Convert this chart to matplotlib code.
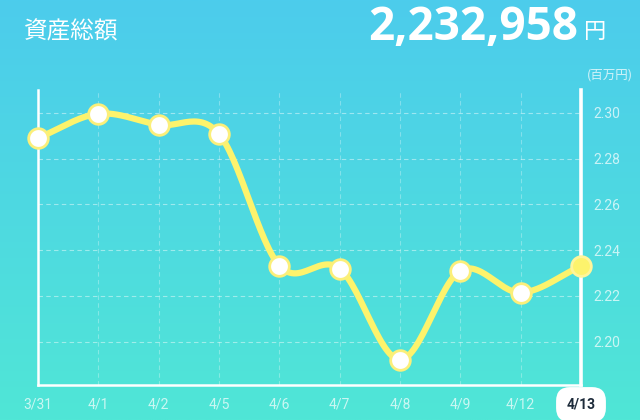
import numpy as np
import matplotlib
matplotlib.use('Agg')
import matplotlib.pyplot as plt

plt.rcParams['font.family'] = ['Roboto', 'Noto Sans CJK JP', 'DejaVu Sans']

dates = ['3/31', '4/1', '4/2', '4/5', '4/6', '4/7', '4/8', '4/9', '4/12', '4/13']
values = [2.289, 2.2996, 2.2948, 2.2908, 2.2332, 2.2319, 2.1921, 2.2310, 2.2214, 2.2330]
yticks = [2.20, 2.22, 2.24, 2.26, 2.28, 2.30]
total = '2,232,958'


def catmull_rom(x, y, n=30):
    # smooth curve through the points
    x = np.asarray(x, float)
    y = np.asarray(y, float)
    px = np.concatenate([[2 * x[0] - x[1]], x, [2 * x[-1] - x[-2]]])
    py = np.concatenate([[2 * y[0] - y[1]], y, [2 * y[-1] - y[-2]]])
    xs, ys = [], []
    t = np.linspace(0, 1, n)
    for i in range(1, len(px) - 2):
        for p, out in ((px, xs), (py, ys)):
            p0, p1, p2, p3 = p[i - 1], p[i], p[i + 1], p[i + 2]
            out.append(0.5 * ((2 * p1) + (-p0 + p2) * t + (2 * p0 - 5 * p1 + 4 * p2 - p3) * t ** 2
                              + (-p0 + 3 * p1 - 3 * p2 + p3) * t ** 3))
    return np.concatenate(xs), np.concatenate(ys)


fig = plt.figure(figsize=(6.4, 4.2), dpi=100)

# gradient background
bg = fig.add_axes([0, 0, 1, 1])
top = np.array([76, 204, 236]) / 255
bottom = np.array([80, 230, 214]) / 255
grad = np.linspace(0, 1, 256)[:, None, None]
img = top * (1 - grad) + bottom * grad
bg.imshow(np.repeat(img, 2, axis=1), aspect='auto', extent=[0, 1, 0, 1])
bg.axis('off')

ax = fig.add_axes([38 / 640, 35 / 420, 543 / 640, 295 / 420])
ax.patch.set_alpha(0)
x = np.arange(len(dates))
ax.set_xlim(0, len(dates) - 1)
ax.set_ylim(2.181, 2.310)

for yt in yticks:
    ax.axhline(yt, color='white', lw=0.8, ls=(0, (4, 3)), alpha=0.45, zorder=1)
for xi in x[1:-1]:
    ax.axvline(xi, color='white', lw=0.8, ls=(0, (4, 3)), alpha=0.3, zorder=1)

sx, sy = catmull_rom(x, values)
ax.plot(sx, sy, color='#fdf36c', lw=4.5, zorder=3, solid_capstyle='round', clip_on=False)
ax.scatter(x[:-1], values[:-1], s=200, facecolor='white', edgecolor='#fbef7a', lw=2, zorder=4,
           clip_on=False)
ax.scatter(x[-1:], values[-1:], s=200, facecolor='#fdf36c', edgecolor='#fff59a', lw=2, zorder=4,
           clip_on=False)

ax.spines['top'].set_visible(False)
ax.spines['left'].set_color('white')
ax.spines['left'].set_linewidth(1.8)
ax.spines['bottom'].set_color('white')
ax.spines['bottom'].set_linewidth(1.8)
ax.spines['right'].set_color('white')
ax.spines['right'].set_linewidth(2.6)

ax.set_xticks(x)
ax.set_xticklabels(dates)
ax.set_yticks(yticks)
ax.set_yticklabels(['%.2f' % v for v in yticks])
ax.yaxis.tick_right()
ax.tick_params(axis='both', length=0, colors=(1, 1, 1, 0.7), labelsize=10)
ax.tick_params(axis='x', pad=9)
ax.tick_params(axis='y', pad=9)

labels = ax.get_xticklabels()
labels[-1].set_color('#1d2b3a')
labels[-1].set_fontweight('bold')
labels[-1].set_bbox(dict(boxstyle='round,pad=0.75,rounding_size=1.0', fc='white', ec='none'))

fig.text(24 / 640, 1 - 32 / 420, '資産総額', color='white', fontsize=17, va='center',
         family=['Noto Sans CJK JP'])
fig.text(578 / 640, 1 - 28 / 420, total, color='white', fontsize=33, fontweight='bold',
         ha='right', va='center', family=['Open Sans'])
fig.text(584 / 640, 1 - 32 / 420, '円', color='white', fontsize=16, va='center',
         family=['Noto Sans CJK JP'])
fig.text(610 / 640, 1 - 75 / 420, '(百万円)', color=(1, 1, 1, 0.75), fontsize=9, ha='center',
         va='center', family=['Noto Sans CJK JP'])

fig.savefig('out.png', dpi=100)
